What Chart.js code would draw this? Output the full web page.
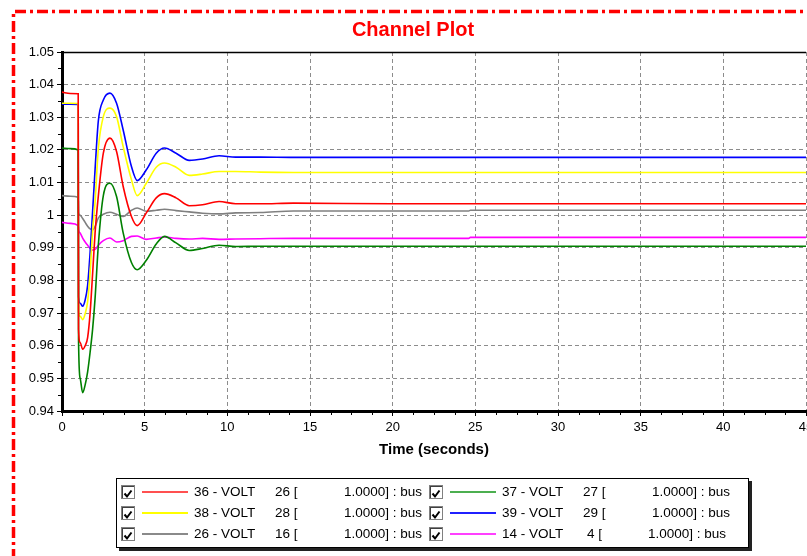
<!DOCTYPE html>
<html>
<head>
<meta charset="utf-8">
<script src="https://cdn.jsdelivr.net/npm/chart.js@4.4.1/dist/chart.umd.min.js"></script>
<style>
html,body{margin:0;padding:0;background:#fff;overflow:hidden;}
#wrap{position:relative;width:807px;height:556px;background:#fff;}
#c{position:absolute;left:0;top:0;}
#legend{position:absolute;left:116px;top:478px;width:631px;height:68px;border:1px solid #000;box-shadow:3px 3px 0 #222;background:#fff;}
.lg{position:absolute;font-family:"Liberation Sans",Arial,sans-serif;font-size:13.5px;line-height:16px;color:#000;white-space:pre;}
.cb{position:absolute;width:12px;height:12px;border:1px solid #808080;box-shadow:inset 1px 1px 0 #404040;background:#fff;}
.sw{position:absolute;width:46px;height:2px;}
</style>
</head>
<body>
<div id="wrap">
<canvas id="c" width="807" height="556"></canvas>
</div>
<script>
// ---- data ----
const TIME = [0, 0.5, 0.98, 1.0, 1.1, 1.25, 1.4, 1.55, 1.7, 1.85, 2.0, 2.2, 2.5, 2.9, 3.3, 3.7, 4.2, 4.55, 5.1, 5.7, 6.2, 6.9, 7.7, 8.5, 9.5, 10.5, 12, 14, 20, 24.6, 24.7, 30, 45];
const V36 = [1.0377, 1.0373, 1.0372, 0.9650, 0.9610, 0.9589, 0.9600, 0.9625, 0.9700, 0.9820, 0.9945, 1.0060, 1.0190, 1.0236, 1.0195, 1.0088, 0.9996, 0.9968, 1.0007, 1.0053, 1.0066, 1.0053, 1.0029, 1.0032, 1.0042, 1.0035, 1.0035, 1.0037, 1.0035, 1.0035, 1.0035, 1.0035, 1.0035];
const V37 = [1.0206, 1.0204, 1.0200, 0.9620, 0.9500, 0.9456, 0.9480, 0.9520, 0.9580, 0.9650, 0.9745, 0.9910, 1.0060, 1.0098, 1.0057, 0.9946, 0.9855, 0.9833, 0.9862, 0.9912, 0.9935, 0.9915, 0.9892, 0.9898, 0.9908, 0.9904, 0.9905, 0.9905, 0.9905, 0.9905, 0.9905, 0.9905, 0.9905];
const V38 = [1.0343, 1.0343, 1.0342, 0.9705, 0.9690, 0.9680, 0.9698, 0.9735, 0.9824, 0.9950, 1.0040, 1.0205, 1.0302, 1.0328, 1.0302, 1.0210, 1.0109, 1.0060, 1.0098, 1.0147, 1.0160, 1.0147, 1.0122, 1.0126, 1.0134, 1.0134, 1.0132, 1.0131, 1.0131, 1.0131, 1.0131, 1.0131, 1.0131];
const V39 = [1.0340, 1.0340, 1.0339, 0.9750, 0.9730, 0.9721, 0.9740, 0.9785, 0.9885, 1.0010, 1.0140, 1.0290, 1.0353, 1.0374, 1.0343, 1.0261, 1.0149, 1.0106, 1.0139, 1.0190, 1.0206, 1.0190, 1.0168, 1.0172, 1.0182, 1.0178, 1.0178, 1.0177, 1.0177, 1.0177, 1.0177, 1.0177, 1.0177];
const V26 = [1.0060, 1.0058, 1.0055, 1.0008, 1.0000, 0.9990, 0.9978, 0.9966, 0.9958, 0.9955, 0.9965, 0.9992, 1.0003, 1.0009, 1.0003, 0.9996, 1.0015, 1.0022, 1.0012, 1.0015, 1.0018, 1.0014, 1.0010, 1.0006, 1.0004, 1.0007, 1.0008, 1.0013, 1.0013, 1.0013, 1.0015, 1.0015, 1.0015];
const V14 = [0.9978, 0.9975, 0.9968, 0.9955, 0.9945, 0.9930, 0.9918, 0.9908, 0.9898, 0.9893, 0.9895, 0.9908, 0.9922, 0.9930, 0.9918, 0.9922, 0.9935, 0.9936, 0.9926, 0.9930, 0.9933, 0.9929, 0.9927, 0.9929, 0.9926, 0.9927, 0.9928, 0.9929, 0.9929, 0.9929, 0.9932, 0.9932, 0.9932];

const SERIES_NAMES = ['36 - VOLT', '37 - VOLT', '38 - VOLT', '39 - VOLT', '26 - VOLT', '14 - VOLT'];
const BUS_NUMBERS = ['26 [', '27 [', '28 [', '29 [', '16 [', '4 ['];
const BASE_TEXT = ['1.0000] : bus', '1.0000] : bus', '1.0000] : bus', '1.0000] : bus', '1.0000] : bus', '1.0000] : bus'];
const SERIES_VALUES = [V36, V37, V38, V39, V26, V14];
const COLORS = ['#ff0000', '#008000', '#ffff00', '#0000ff', '#808080', '#ff00ff'];
const LEGEND_COLORS = ['#ff5050', '#4caf50', '#ffff00', '#2020ff', '#8a8a8a', '#ff40ff'];

const X_TICKS = [0, 5, 10, 15, 20, 25, 30, 35, 40, 45];
const Y_TICKS = [0.94, 0.95, 0.96, 0.97, 0.98, 0.99, 1.00, 1.01, 1.02, 1.03, 1.04, 1.05];
const Y_TICK_LABELS = ['0.94', '0.95', '0.96', '0.97', '0.98', '0.99', '1', '1.01', '1.02', '1.03', '1.04', '1.05'];
const X_MINOR_STEP = 1.25;
const Y_MINOR_STEP = 0.005;

// ---- chart ----
const datasets = SERIES_VALUES.map((vals, i) => ({
  label: SERIES_NAMES[i],
  data: TIME.map((t, j) => ({x: t, y: vals[j]})),
  borderColor: COLORS[i],
  backgroundColor: COLORS[i],
  borderWidth: 1.6,
  pointRadius: 0,
  fill: false,
  cubicInterpolationMode: 'monotone'
}));

const decor = {
  id: 'decor',
  afterDraw(chart) {
    const ctx = chart.ctx, a = chart.chartArea;
    const xs = chart.scales.x, ys = chart.scales.y;
    ctx.save();
    ctx.strokeStyle = '#000';
    ctx.lineWidth = 1.5;
    ctx.beginPath();
    ctx.moveTo(a.left, a.top + 0.5);
    ctx.lineTo(a.right, a.top + 0.5);
    ctx.stroke();
    ctx.lineWidth = 1;
    ctx.beginPath();
    for (let v = X_MINOR_STEP; v < xs.max; v += X_MINOR_STEP) {
      if (Math.abs(v / 5 - Math.round(v / 5)) < 1e-6) continue;
      const px = Math.round(xs.getPixelForValue(v)) + 0.5;
      ctx.moveTo(px, a.bottom + 1);
      ctx.lineTo(px, a.bottom + 4);
    }
    for (let k = 1; ys.min + k * Y_MINOR_STEP < ys.max; k += 2) {
      const v = ys.min + k * Y_MINOR_STEP;
      const py = Math.round(ys.getPixelForValue(v)) + 0.5;
      ctx.moveTo(a.left - 1, py);
      ctx.lineTo(a.left - 4, py);
    }
    ctx.stroke();
    ctx.strokeStyle = '#ff0000';
    ctx.lineWidth = 3.5;
    ctx.setLineDash([11, 4, 3, 4]);
    ctx.beginPath();
    ctx.moveTo(13.5, 560);
    ctx.lineTo(13.5, 11.5);
    ctx.lineTo(812, 11.5);
    ctx.stroke();
    ctx.restore();
  }
};

Chart.defaults.font.family = '"Liberation Sans", Arial, sans-serif';

new Chart(document.getElementById('c'), {
  type: 'line',
  data: {datasets},
  plugins: [decor],
  options: {
    responsive: false,
    animation: false,
    events: [],
    layout: {padding: {left: 20, right: 1, top: 0, bottom: 94}},
    plugins: {
      legend: {display: false},
      tooltip: {enabled: false},
      title: {
        display: true,
        text: 'Channel Plot',
        color: '#ff0000',
        font: {size: 20, weight: 'bold'},
        padding: {top: 18, bottom: 10}
      }
    },
    scales: {
      x: {
        type: 'linear',
        min: 0,
        max: 45,
        afterBuildTicks: s => { s.ticks = X_TICKS.map(v => ({value: v})); },
        afterFit: s => { s.height = 51; s.paddingLeft = 0; s.paddingRight = 0; },
        ticks: {color: '#000', font: {size: 13}, padding: 4, maxRotation: 0, autoSkip: false,
                callback: v => String(v)},
        grid: {color: '#8c8c8c', lineWidth: 1, drawTicks: true, tickLength: 5, tickColor: '#000'},
        border: {display: true, color: '#000', width: 3, dash: [4, 3]},
        title: {display: true, text: 'Time (seconds)', color: '#000',
                font: {size: 15, weight: 'bold'}, padding: {top: 2, bottom: 3}}
      },
      y: {
        type: 'linear',
        min: 0.94,
        max: 1.05,
        afterBuildTicks: s => { s.ticks = Y_TICKS.map(v => ({value: v})); },
        afterFit: s => { s.width = 42; s.paddingTop = 0; s.paddingBottom = 0; },
        ticks: {color: '#000', font: {size: 13}, padding: 3, autoSkip: false,
                callback: (v, i) => Y_TICK_LABELS[i]},
        grid: {color: '#8c8c8c', lineWidth: 1, drawTicks: true, tickLength: 5, tickColor: '#000'},
        border: {display: true, color: '#000', width: 3, dash: [4, 3]}
      }
    }
  }
});

// ---- legend (HTML) ----
const wrap = document.getElementById('wrap');
const lg = document.createElement('div');
lg.id = 'legend';
wrap.appendChild(lg);
const ROW_CENTERS = [492, 513, 534];
const COL_SHIFT = 308;
function add(el, css, text) {
  if (text !== undefined) el.textContent = text;
  Object.assign(el.style, css);
  wrap.appendChild(el);
  return el;
}
SERIES_NAMES.forEach((name, i) => {
  const col = i % 2, row = Math.floor(i / 2);
  const dx = col * COL_SHIFT, cy = ROW_CENTERS[row];
  const cb = document.createElement('span');
  cb.className = 'cb';
  cb.innerHTML = '<svg width="12" height="12" viewBox="0 0 12 12"><path d="M2.5 5.5 L5 8.5 L9.5 2.5" fill="none" stroke="#000" stroke-width="2"/></svg>';
  add(cb, {left: (121 + dx) + 'px', top: (cy - 7) + 'px'});
  const sw = document.createElement('span');
  sw.className = 'sw';
  add(sw, {left: (142 + dx) + 'px', top: (cy - 1) + 'px', background: LEGEND_COLORS[i]});
  const t1 = document.createElement('span'); t1.className = 'lg';
  add(t1, {left: (194 + dx) + 'px', top: (cy - 8) + 'px'}, name);
  const t2 = document.createElement('span'); t2.className = 'lg';
  const shortNum = BUS_NUMBERS[i].length < 4 ? 4 : 0;
  add(t2, {left: (275 + dx + shortNum) + 'px', top: (cy - 8) + 'px'}, BUS_NUMBERS[i]);
  const t3 = document.createElement('span'); t3.className = 'lg';
  add(t3, {right: (807 - 422 - dx + shortNum) + 'px', top: (cy - 8) + 'px'}, BASE_TEXT[i]);
});
</script>
</body>
</html>
